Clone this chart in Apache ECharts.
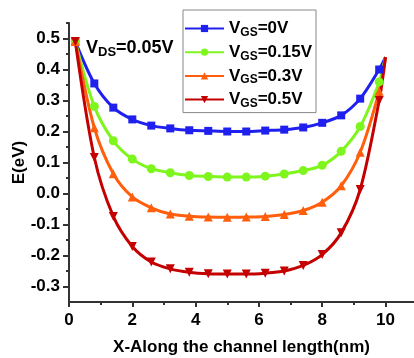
<!DOCTYPE html>
<html>
<head>
<meta charset="utf-8">
<script src="https://cdn.jsdelivr.net/npm/echarts@6/dist/echarts.min.js"></script>
<style>
  html, body { margin: 0; padding: 0; background: #fff; }
  #chart { width: 414px; height: 358px; }
</style>
</head>
<body>
<div id="chart"></div>
<script>
// positions along the channel (nm)
var xs = [0.2, 0.8, 1.4, 2.0, 2.6, 3.2, 3.8, 4.4, 5.0, 5.6, 6.2, 6.8, 7.4, 8.0, 8.6, 9.2, 9.8, 10];

var vgs0 = [0.49, 0.355, 0.277, 0.239, 0.219, 0.210, 0.204, 0.202, 0.200, 0.200, 0.203, 0.206, 0.213, 0.228, 0.252, 0.306, 0.40, 0.44];
var vgs015 = [0.49, 0.281, 0.170, 0.111, 0.080, 0.067, 0.058, 0.055, 0.053, 0.053, 0.056, 0.063, 0.074, 0.091, 0.136, 0.216, 0.36, 0.44];
var vgs03 = [0.49, 0.212, 0.064, -0.011, -0.046, -0.066, -0.073, -0.076, -0.077, -0.076, -0.074, -0.068, -0.055, -0.028, 0.025, 0.133, 0.33, 0.44];
var vgs05 = [0.49, 0.116, -0.074, -0.171, -0.221, -0.243, -0.254, -0.259, -0.260, -0.260, -0.257, -0.250, -0.232, -0.197, -0.127, 0.013, 0.30, 0.44];

var names = ['VGS=0V', 'VGS=0.15V', 'VGS=0.3V', 'VGS=0.5V'];
var labels = ['0V', '0.15V', '0.3V', '0.5V'];
var colors = ['#2020ee', '#7ff51e', '#ff5e0c', '#c40000'];
var symbols = ['rect', 'circle', 'triangle', 'triangle'];

var xTicks = [0, 2, 4, 6, 8, 10];
var xMinor = [1, 3, 5, 7, 9];
var yTicks = [-0.3, -0.2, -0.1, 0, 0.1, 0.2, 0.3, 0.4, 0.5];
var yMinor = [-0.25, -0.15, -0.05, 0.05, 0.15, 0.25, 0.35, 0.45, 0.55];

var FONT = '"Liberation Sans", Arial, sans-serif';

function pairs(ys){
    var out = [];
    for(var i = 0; i < xs.length; i++){
        if(i == xs.length - 1){
            out.push({value: [xs[i], ys[i]], symbol: 'none'});
        } else {
            out.push([xs[i], ys[i]]);
        }
    }
    return out;
}

var rich = {
    v: {fontSize: 17, fontWeight: 'bold', fontFamily: FONT, color: '#000', lineHeight: 20},
    s: {fontSize: 12, fontWeight: 'bold', fontFamily: FONT, color: '#000', lineHeight: 10, verticalAlign: 'bottom'}
};

var axisLineStyle = {color: '#333', width: 2};

function drawChart(){
    var myChart = echarts.init(document.getElementById('chart'));
    var allY = [vgs0, vgs015, vgs03, vgs05];
    var series = [];
    for(var i = 0; i < 4; i++){
        series.push({
            name: names[i],
            type: 'line',
            data: pairs(allY[i]),
            smooth: 0.3,
            symbol: symbols[i],
            symbolSize: i == 0 ? 8 : 9,
            symbolRotate: i == 3 ? 180 : 0,
            showAllSymbol: true,
            color: colors[i],
            lineStyle: {width: 3, color: colors[i]},
            itemStyle: {color: colors[i]},
            animation: false
        });
    }
    var option = {
        animation: false,
        backgroundColor: '#fff',
        title: {
            text: '{v|V}{s|DS}{v|=0.05V}',
            left: 86,
            top: 37,
            padding: 0,
            textStyle: {
                rich: {
                    v: {fontSize: 18, fontWeight: 'bold', fontFamily: FONT, color: '#000', lineHeight: 22},
                    s: {fontSize: 13, fontWeight: 'bold', fontFamily: FONT, color: '#000', lineHeight: 11, verticalAlign: 'bottom'}
                }
            }
        },
        legend: {
            data: names,
            orient: 'vertical',
            left: 183,
            top: 10,
            padding: [10, 4, 3, 1],
            itemGap: 5.2,
            itemWidth: 39,
            itemHeight: 9,
            borderColor: '#888',
            borderWidth: 1,
            formatter: function(name){
                return '{v|V}{s|GS}{v|=' + labels[names.indexOf(name)] + '}';
            },
            textStyle: {rich: rich}
        },
        grid: {left: 69, right: 0, top: 23, bottom: 56, outerBoundsMode: 'none'},
        xAxis: [{
            type: 'value',
            min: 0,
            max: 10.9,
            name: 'X-Along the channel length(nm)',
            nameLocation: 'middle',
            nameGap: 37,
            nameMoveOverlap: false,
            nameTextStyle: {fontSize: 17, fontWeight: 'bold', fontFamily: FONT, color: '#000'},
            axisLine: {onZero: false, lineStyle: axisLineStyle},
            axisTick: {customValues: xTicks, length: 5, lineStyle: axisLineStyle},
            axisLabel: {customValues: xTicks, margin: 10, fontSize: 17, fontWeight: 'bold', fontFamily: FONT, color: '#000'},
            splitLine: {show: false}
        }, {
            type: 'value',
            position: 'bottom',
            min: 0,
            max: 10.9,
            axisLine: {show: false, onZero: false},
            axisTick: {customValues: xMinor, length: 3, lineStyle: axisLineStyle},
            axisLabel: {show: false},
            splitLine: {show: false}
        }],
        yAxis: [{
            type: 'value',
            min: -0.35,
            max: 0.55,
            name: 'E(eV)',
            nameLocation: 'middle',
            nameGap: 41,
            nameMoveOverlap: false,
            nameTextStyle: {fontSize: 17, fontWeight: 'bold', fontFamily: FONT, color: '#000'},
            axisLine: {show: true, onZero: false, lineStyle: axisLineStyle},
            axisTick: {show: true, customValues: yTicks, length: 6, lineStyle: axisLineStyle},
            axisLabel: {
                customValues: yTicks,
                margin: 9,
                fontSize: 17, fontWeight: 'bold', fontFamily: FONT, color: '#000',
                formatter: function(v){ return v.toFixed(1); }
            },
            splitLine: {show: false}
        }, {
            type: 'value',
            position: 'left',
            min: -0.35,
            max: 0.55,
            axisLine: {show: false, onZero: false},
            axisTick: {show: true, customValues: yMinor, length: 3, lineStyle: axisLineStyle},
            axisLabel: {show: false},
            splitLine: {show: false}
        }],
        series: series
    };
    myChart.setOption(option);
}
window.onload = function(){
    drawChart();
};
</script>
</body>
</html>
